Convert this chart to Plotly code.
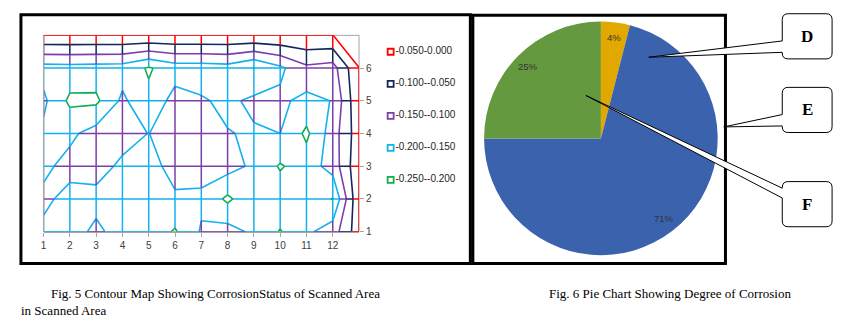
import math
import plotly.graph_objects as go

W, H = 855, 326

# ---------------- Contour map data (rows bottom y=1 -> top y=7, columns x=1..13) -------------
x_vals = list(range(1, 14))
y_vals = list(range(1, 8))
z_rows = [
    [-0.160, -0.170, -0.140, -0.170, -0.170, -0.205, -0.145, -0.130, -0.160, -0.203, -0.160, -0.125, -0.020],
    [-0.140, -0.165, -0.165, -0.170, -0.175, -0.160, -0.160, -0.210, -0.160, -0.170, -0.170, -0.202, -0.005],
    [-0.160, -0.135, -0.130, -0.160, -0.175, -0.125, -0.130, -0.130, -0.160, -0.205, -0.175, -0.130, -0.010],
    [-0.160, -0.160, -0.130, -0.130, -0.151, -0.120, -0.125, -0.148, -0.155, -0.150, -0.210, -0.125, -0.020],
    [-0.140, -0.210, -0.210, -0.140, -0.190, -0.130, -0.145, -0.160, -0.140, -0.140, -0.165, -0.148, -0.005],
    [-0.170, -0.168, -0.170, -0.172, -0.205, -0.175, -0.175, -0.170, -0.201, -0.160, -0.110, -0.120, -0.002],
    [-0.003, -0.003, -0.003, -0.003, -0.003, -0.003, -0.003, -0.003, -0.003, -0.003, -0.003, -0.002, 0.100],
]
band_labels = ["-0.050-0.000", "-0.100--0.050", "-0.150--0.100", "-0.200--0.150", "-0.250--0.200"]
band_lows = [-0.05, -0.10, -0.15, -0.20, -0.25]
band_highs = [0.0, -0.05, -0.10, -0.15, -0.20]
band_colors = ["#FF0000", "#12275A", "#7B3FAC", "#14B1EE", "#10AE4E"]
x_ticks = list(range(1, 13))
y_ticks = list(range(1, 7))

# ---------------- Pie data ----------------
pie_names = ["Slice 1", "Slice 2", "Slice 3"]
pie_values = [4, 71, 25]
pie_colors = ["#E1A800", "#3B63AD", "#64993F"]
callout_letters = ["D", "E", "F"]

captions = ["Fig. 5 Contour Map Showing CorrosionStatus of Scanned Area",
            "in Scanned Area",
            "Fig. 6 Pie Chart Showing Degree of Corrosion"]

GRAY = "#A6A6A6"
TXT = "#404040"


def px(xp):
    return xp / W


def py(yp):
    return 1 - yp / H


fig = go.Figure()

# ---------- wireframe grid coloured by band (piecewise along each edge) ----------
levels = sorted(set(band_lows + band_highs))


def band_of(v):
    for k, (lo, hi) in enumerate(zip(band_lows, band_highs)):
        if lo <= v <= hi:
            return k
    return None


seg = {k: ([], []) for k in range(len(band_labels))}


def add_edge(xa, ya, xb, yb, a, b):
    ts = [0.0, 1.0]
    if a != b:
        for L in levels:
            t = (L - a) / (b - a)
            if 0 < t < 1:
                ts.append(t)
    ts.sort()
    for t0, t1 in zip(ts[:-1], ts[1:]):
        vm = a + (b - a) * (t0 + t1) / 2
        k = band_of(vm)
        if k is None:
            continue
        xs, ys = seg[k]
        xs += [xa + (xb - xa) * t0, xa + (xb - xa) * t1, None]
        ys += [ya + (yb - ya) * t0, ya + (yb - ya) * t1, None]


ny, nx = len(y_vals), len(x_vals)
for j in range(ny):
    for i in range(nx - 1):
        add_edge(x_vals[i], y_vals[j], x_vals[i + 1], y_vals[j], z_rows[j][i], z_rows[j][i + 1])
for i in range(nx):
    for j in range(ny - 1):
        add_edge(x_vals[i], y_vals[j], x_vals[i], y_vals[j + 1], z_rows[j][i], z_rows[j + 1][i])

# contour lines
cs = [[0.0, band_colors[4]], [0.25, band_colors[3]], [0.5, band_colors[2]],
      [0.75, band_colors[1]], [1.0, band_colors[0]]]
fig.add_trace(go.Contour(
    x=x_vals, y=y_vals, z=z_rows, zmin=-0.2, zmax=0.0, autocontour=False,
    contours=dict(start=-0.2, end=0.0, size=0.05, coloring="lines", showlabels=False),
    colorscale=cs, line=dict(width=1.6, smoothing=0), showscale=False,
    hoverinfo="skip", xaxis="x", yaxis="y"))

for k in [3, 2, 1, 0]:
    xs, ys = seg[k]
    fig.add_trace(go.Scatter(x=xs, y=ys, mode="lines", line=dict(color=band_colors[k], width=1.5),
                             hoverinfo="skip", showlegend=False, xaxis="x", yaxis="y"))

# legend built as a marker+text trace on its own axes
fig.add_trace(go.Scatter(
    x=[0] * len(band_labels), y=band_labels, mode="markers+text", text=band_labels,
    textposition="middle right",
    marker=dict(symbol="square-open", size=6, color=band_colors, line=dict(width=1.8, color=band_colors)),
    textfont=dict(size=10, color="#262626", family="Liberation Sans"),
    cliponaxis=False, showlegend=False, hoverinfo="skip", xaxis="x2", yaxis="y2"))

# ---------- pie ----------
PCX, PCY, PR = 600, 141, 119
fig.add_trace(go.Pie(
    values=pie_values, labels=pie_names, marker=dict(colors=pie_colors, line=dict(width=0)),
    sort=False, direction="clockwise", rotation=0, textinfo="none", hoverinfo="skip",
    showlegend=False,
    domain=dict(x=[px(PCX - PR), px(PCX + PR)], y=[py(PCY + PR), py(PCY - PR)])))

annotations = []
tot = float(sum(pie_values))
cum = 0.0
for v in pie_values:
    th = 2 * math.pi * (cum + v / 2) / tot
    cum += v
    r = 0.87 * PR
    annotations.append(dict(x=px(PCX + r * math.sin(th)), y=py(PCY - r * math.cos(th)),
                            xref="paper", yref="paper", xanchor="center", yanchor="middle",
                            text=f"{v}%", showarrow=False,
                            font=dict(size=9.5, color="#333333", family="Liberation Sans")))

# ---------- layout / axes ----------
fig.update_layout(
    width=W, height=H, margin=dict(l=0, r=0, t=0, b=0),
    paper_bgcolor="white", plot_bgcolor="rgba(0,0,0,0)", showlegend=False,
    xaxis=dict(domain=[px(40.7), px(357.3)], range=[1, 13], tickvals=x_ticks,
               ticks="outside", ticklen=4, tickcolor=GRAY, showline=True, linecolor=GRAY,
               linewidth=1, showgrid=False, zeroline=False, layer="above traces",
               tickfont=dict(size=10, color=TXT, family="Liberation Sans"), anchor="y", fixedrange=True),
    yaxis=dict(domain=[py(236), py(36)], range=[1, 7], tickvals=y_ticks, side="right",
               ticks="outside", ticklen=4, tickcolor=GRAY, showline=False,
               showgrid=False, zeroline=False, anchor="x",
               tickfont=dict(size=10, color=TXT, family="Liberation Sans"), fixedrange=True),
    xaxis2=dict(domain=[px(389), px(470)], range=[0, 1], visible=False, anchor="y2"),
    yaxis2=dict(domain=[py(183.3), py(52.7)], type="category", categoryarray=band_labels,
                range=[len(band_labels) - 1, 0], visible=False, anchor="x2"),
)

shapes = []
# plot-area border (gray): top/right below traces, left above traces
shapes.append(dict(type="rect", xref="x domain", yref="y domain", x0=0, x1=1, y0=0, y1=1,
                   line=dict(color=GRAY, width=1), layer="below"))
shapes.append(dict(type="line", xref="x domain", yref="y domain", x0=0, x1=0, y0=0, y1=1,
                   line=dict(color=GRAY, width=1.2), layer="above"))

# black frames
shapes.append(dict(type="rect", xref="paper", yref="paper", x0=px(18), x1=px(469), y0=py(268.5), y1=py(15),
                   line=dict(color="black", width=3)))
shapes.append(dict(type="rect", xref="paper", yref="paper", x0=px(471.5), x1=px(725), y0=py(268.5), y1=py(15.5),
                   line=dict(color="black", width=3)))


def callout_path(x0, y0, x1, y1, t0, t1, tx, ty, r=6):
    P = lambda a, b: f"{px(a):.5f},{py(b):.5f}"
    d = f"M{P(x0 + r, y0)} L{P(x1 - r, y0)} Q{P(x1, y0)} {P(x1, y0 + r)} "
    d += f"L{P(x1, y1 - r)} Q{P(x1, y1)} {P(x1 - r, y1)} L{P(x0 + r, y1)} Q{P(x0, y1)} {P(x0, y1 - r)} "
    d += f"L{P(x0, t1)} L{P(tx, ty)} L{P(x0, t0)} L{P(x0, y0 + r)} Q{P(x0, y0)} {P(x0 + r, y0)} Z"
    return d


boxes = [
    (782, 14, 832, 60, 41.7, 53.3, 648, 58.3),
    (782, 89, 832, 135, 116.7, 128.3, 723.3, 129.3),
    (782, 185, 832, 231, 191.7, 201.7, 585, 97.3),
]
for (bx0, by0, bx1, by1, t0, t1, tx, ty), letter in zip(boxes, callout_letters):
    shapes.append(dict(type="path", xref="paper", yref="paper",
                       path=callout_path(bx0, by0, bx1, by1, t0, t1, tx, ty),
                       fillcolor="white", line=dict(color="black", width=1), layer="above"))
    annotations.append(dict(x=px((bx0 + bx1) / 2), y=py((by0 + by1) / 2), xref="paper", yref="paper",
                            xanchor="center", yanchor="middle",
                            text=f"<b>{letter}</b>", showarrow=False,
                            font=dict(size=17, color="black", family="Liberation Serif")))

# captions
cap_font = dict(size=13, color="black", family="Liberation Serif")
annotations.append(dict(x=px(46), y=py(299), xref="paper", yref="paper", xanchor="left", yanchor="middle",
                        text=captions[0], showarrow=False, font=cap_font))
annotations.append(dict(x=px(16), y=py(316), xref="paper", yref="paper", xanchor="left", yanchor="middle",
                        text=captions[1], showarrow=False, font=cap_font))
annotations.append(dict(x=px(546), y=py(299), xref="paper", yref="paper", xanchor="left", yanchor="middle",
                        text=captions[2], showarrow=False, font=cap_font))

fig.update_layout(shapes=shapes, annotations=annotations)
fig.write_html("out.html")
